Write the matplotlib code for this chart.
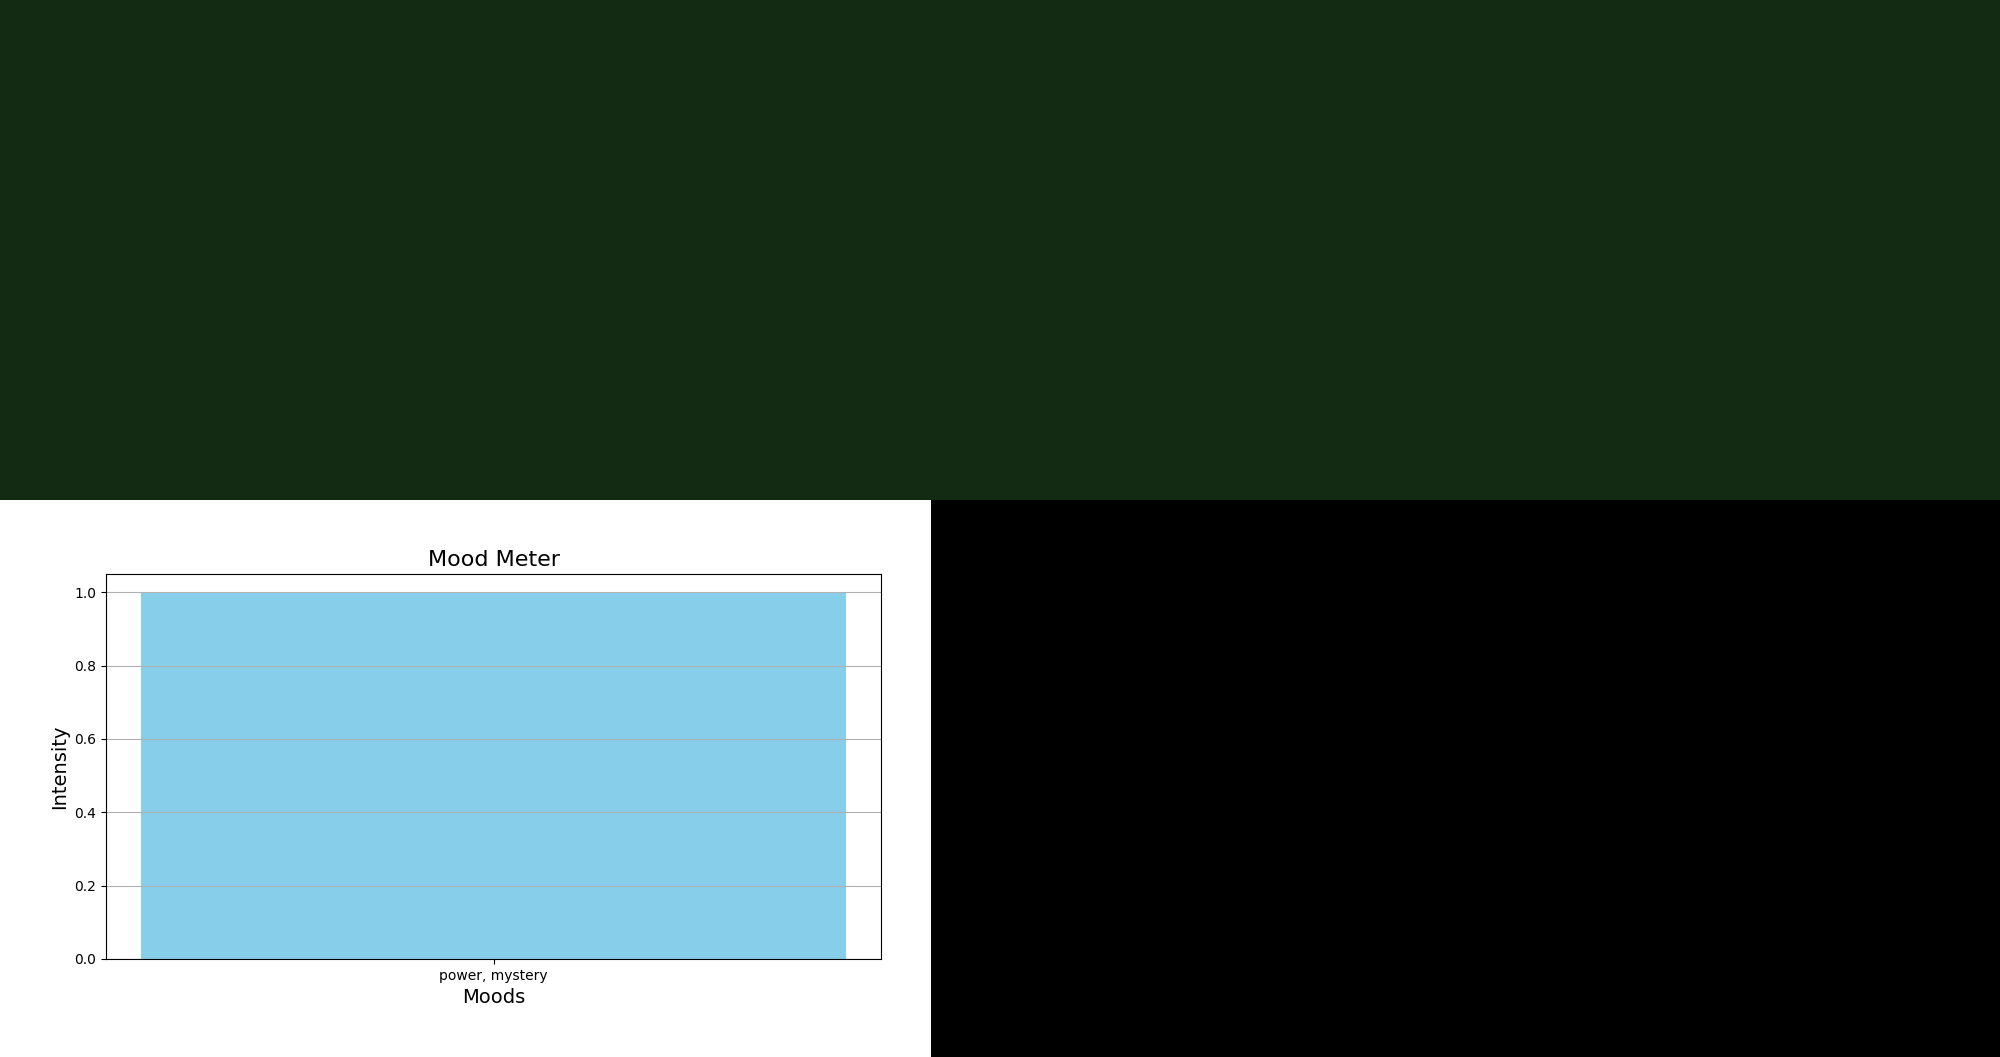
import matplotlib
matplotlib.use('Agg')
import matplotlib.pyplot as plt

moods = ['power, mystery']
intensity = [1.0]

W, H = 2000, 1057
fig = plt.figure(figsize=(W / 100, H / 100), dpi=100)
fig.patch.set_facecolor('white')

# dark green band across the top
top = fig.add_axes([0, 557 / H, 1, 500 / H])
top.set_facecolor('#132b13')
top.set_xticks([])
top.set_yticks([])
for s in top.spines.values():
    s.set_visible(False)

# black block bottom right
br = fig.add_axes([931 / W, 0, 1 - 931 / W, 557 / H])
br.set_facecolor('black')
br.set_xticks([])
br.set_yticks([])
for s in br.spines.values():
    s.set_visible(False)

ax = fig.add_axes([106 / W, 98 / H, 775 / W, 385 / H])
ax.bar(moods, intensity, color='skyblue')
ax.set_title('Mood Meter', fontsize=16)
ax.set_xlabel('Moods', fontsize=14)
ax.set_ylabel('Intensity', fontsize=14)
ax.grid(axis='y')

fig.savefig('out.png', dpi=100)
